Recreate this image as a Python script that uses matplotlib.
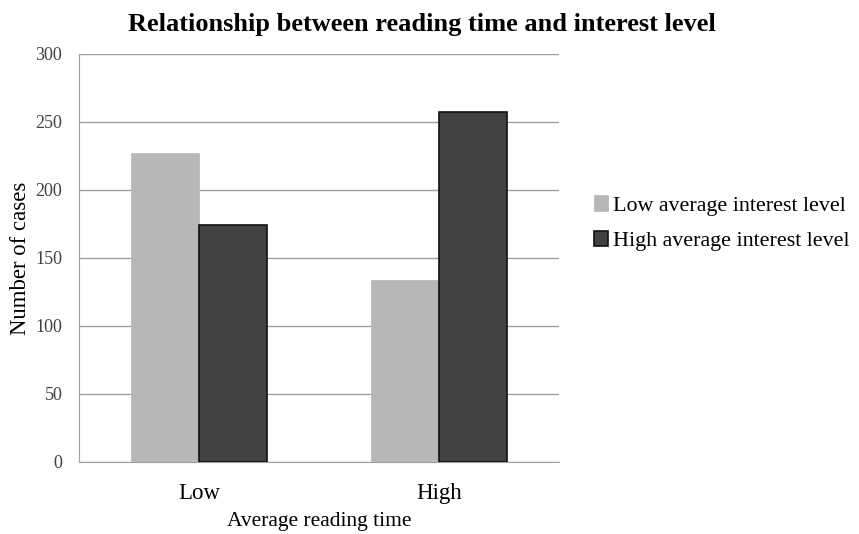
import numpy as np
import matplotlib.pyplot as plt

# ==============================
# Data
# ==============================
categories = ["Low", "High"]
series_names = ["Low average interest level", "High average interest level"]
low_interest = [227, 134]
high_interest = [174, 257]

plt.rcParams['font.family'] = ['Liberation Serif', 'DejaVu Serif']

fig = plt.figure(figsize=(8.59, 5.34), dpi=100)
ax = fig.add_axes([79 / 859, 1 - 462 / 534, 480 / 859, 408 / 534])

x = np.arange(len(categories))
w = 0.285

ax.bar(x - w / 2, low_interest, width=w, color='#b7b7b7',
       edgecolor='#b7b7b7', linewidth=0.5, label=series_names[0], zorder=3)
ax.bar(x + w / 2, high_interest, width=w, color='#424242',
       edgecolor='#111111', linewidth=1.2, label=series_names[1], zorder=3)

ax.set_xlim(-0.5, 1.5)
ax.set_ylim(0, 300)
ax.set_yticks(range(0, 301, 50))
ax.set_xticks(x)
ax.set_xticklabels(categories, fontsize=16.5)
ax.tick_params(axis='y', labelsize=13, length=0, pad=12, colors='#404040')
ax.tick_params(axis='x', length=0, pad=15, colors='#000000')

ax.grid(axis='y', color='#a0a0a0', linewidth=1, zorder=0)
for s in ['top', 'right']:
    ax.spines[s].set_visible(False)
ax.spines['left'].set_color('#a0a0a0')
ax.spines['bottom'].set_color('#a0a0a0')

ax.set_xlabel('Average reading time', fontsize=15.5, labelpad=6)
ax.set_ylabel('Number of cases', fontsize=16.4, labelpad=3)
fig.text(422 / 859, 1 - 25 / 534,
         'Relationship between reading time and interest level',
         fontsize=19, fontweight='bold', ha='center', va='center')

ax.legend(loc='center left', bbox_to_anchor=(1.054, 0.585), frameon=False,
          fontsize=15.8, handlelength=0.65, handleheight=0.7, handletextpad=0.25,
          labelspacing=0.68, borderaxespad=0)

plt.savefig('out.png', dpi=100)
plt.close()
